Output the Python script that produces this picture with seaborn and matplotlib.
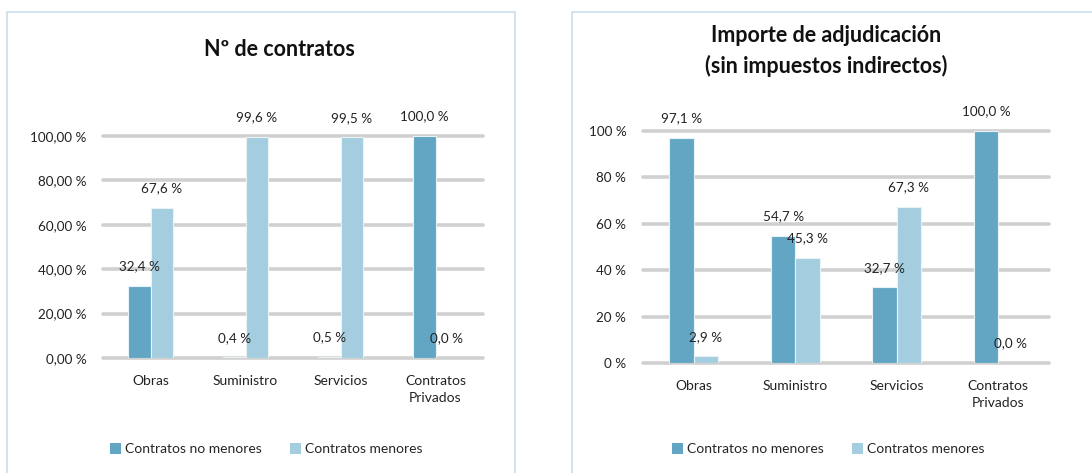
import matplotlib
matplotlib.use("Agg")
import matplotlib.pyplot as plt
import seaborn as sns
import pandas as pd
from matplotlib.patches import Rectangle, Patch

categories = ["Obras", "Suministro", "Servicios", "Contratos\nPrivados"]
series_names = ["Contratos no menores", "Contratos menores"]
num_no_menores = [32.4, 0.4, 0.5, 100.0]
num_menores = [67.6, 99.6, 99.5, 0.0]
imp_no_menores = [97.1, 54.7, 32.7, 100.0]
imp_menores = [2.9, 45.3, 67.3, 0.0]
yticks_left = [0, 20, 40, 60, 80, 100]
yticks_right = [0, 20, 40, 60, 80, 100]
title_left = "Nº de contratos"
title_right = "Importe de adjudicación\n(sin impuestos indirectos)"

sns.set_theme(style="white")
plt.rcParams["font.family"] = ["Lato", "DejaVu Sans"]

DARK = "#62A6C4"
LIGHT = "#A4CEDF"
GRID = "#D0D0D0"
BORDER = "#C9DEEA"

fig = plt.figure(figsize=(10.92, 4.73), dpi=100)
W, H = 1092, 473

def fx(px):
    return px / W

def fy(py):
    return 1 - py / H

# panel borders
fig.patches.append(Rectangle((fx(7), fy(480)), fx(515 - 7), fy(12) - fy(480),
                             transform=fig.transFigure, fill=False,
                             edgecolor=BORDER, lw=1.2))
fig.patches.append(Rectangle((fx(572), fy(480)), fx(1100 - 572), fy(12) - fy(480),
                             transform=fig.transFigure, fill=False,
                             edgecolor=BORDER, lw=1.2))


def make_df(a, b):
    rows = []
    for c, v in zip(categories, a):
        rows.append({"cat": c, "serie": series_names[0], "val": v})
    for c, v in zip(categories, b):
        rows.append({"cat": c, "serie": series_names[1], "val": v})
    return pd.DataFrame(rows)


def draw(ax, a, b, ticks, fmt, width):
    df = make_df(a, b)
    sns.barplot(data=df, x="cat", y="val", hue="serie", order=categories,
                hue_order=series_names, palette=[DARK, LIGHT], width=width,
                ax=ax, edgecolor="#E8F2F7", linewidth=0.8, legend=False,
                saturation=1)
    ax.set_ylim(0, 100)
    ax.set_xlim(-0.5, len(categories) - 0.5)
    ax.set_yticks(ticks)
    ax.set_yticklabels([fmt(t) for t in ticks], fontsize=9.7, color="#222222")
    ax.tick_params(axis="x", labelsize=10, colors="#222222", length=0, pad=12)
    for lab in ax.get_xticklabels():
        lab.set_linespacing(1.5)
    ax.tick_params(axis="y", length=0, pad=12)
    ax.set_xlabel("")
    ax.set_ylabel("")
    for s in ax.spines.values():
        s.set_visible(False)
    for t in ticks:
        ax.axhline(t, color=GRID, lw=2.6, zorder=0, clip_on=False)
    ax.set_axisbelow(True)
    for cont in ax.containers:
        for bar in cont:
            h = bar.get_height()
            ax.annotate(f"{h:.1f} %".replace(".", ","),
                        (bar.get_x() + bar.get_width() / 2, h),
                        xytext=(0, 14), textcoords="offset points",
                        ha="center", va="center", fontsize=9.7, color="#222222",
                        annotation_clip=False)


axL = fig.add_axes([fx(103), fy(358), fx(483 - 103), fy(136) - fy(358)])
draw(axL, num_no_menores, num_menores, yticks_left,
     lambda t: f"{t:.2f} %".replace(".", ","), 0.48)
fig.text(fx(279), fy(50), title_left, ha="center", va="center",
         fontsize=15.5, fontweight="bold", color="#111111")

axR = fig.add_axes([fx(643), fy(363), fx(1049 - 643), fy(131) - fy(363)])
draw(axR, imp_no_menores, imp_menores, yticks_right,
     lambda t: f"{t:d} %", 0.48)
fig.text(fx(826), fy(51), title_right, ha="center", va="center",
         fontsize=15.5, fontweight="bold", color="#111111", linespacing=1.45)

handles = [Patch(facecolor=DARK, edgecolor="none"), Patch(facecolor=LIGHT, edgecolor="none")]
for cx in (fx(266), fx(828)):
    fig.legend(handles, series_names, loc="center", bbox_to_anchor=(cx, fy(449)),
               ncol=2, frameon=False, fontsize=10, handlelength=0.8,
               handleheight=0.8, handletextpad=0.3, columnspacing=2.0)

fig.savefig("out.png", dpi=100)
